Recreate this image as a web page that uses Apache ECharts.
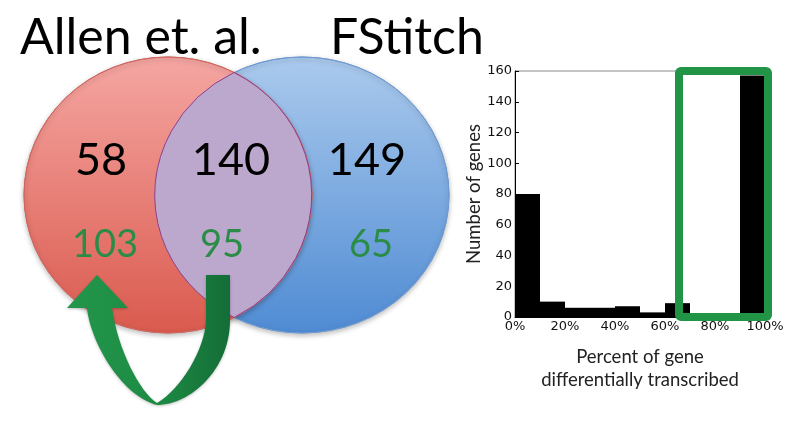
<!DOCTYPE html>
<html>
<head>
<meta charset="utf-8">
<script src="https://cdn.jsdelivr.net/npm/echarts@6/dist/echarts.min.js"></script>
<style>
  html, body { margin: 0; padding: 0; background: #fff; }
  #main { width: 800px; height: 426px; }
</style>
</head>
<body>
<div id="main"></div>
<script>
// venn counts
var setNames = ['Allen et. al.', 'FStitch']
var vennBlack = [58, 140, 149]
var vennGreen = [103, 95, 65]

// histogram: percent of gene differentially transcribed
var binStarts = [0, 0.1, 0.2, 0.3, 0.4, 0.5, 0.6, 0.7, 0.8, 0.9]
var binWidth = 0.1
var binCounts = [80, 10, 6, 6, 7, 3, 9, 2, 2, 157]
var yMax = 160
// highlighted range (green box), in data units
var boxX = [0.656, 1.012]
var boxY = [0, 160]

var GREEN_TXT = '#2b8c47'
var FONT = 'Lato, "Open Sans", sans-serif'

var myChart = echarts.init(document.getElementById('main'))

function ellipsePath(cx, cy, rx, ry) {
  return 'M' + (cx - rx) + ' ' + cy +
    ' A' + rx + ' ' + ry + ' 0 1 0 ' + (cx + rx) + ' ' + cy +
    ' A' + rx + ' ' + ry + ' 0 1 0 ' + (cx - rx) + ' ' + cy + ' Z'
}
function vgrad(c0, c1) {
  return { type: 'linear', x: 0, y: 0, x2: 0, y2: 1, colorStops: [{ offset: 0, color: c0 }, { offset: 1, color: c1 }] }
}

var red = { cx: 168, cy: 195, rx: 144, ry: 138 }
var blue = { cx: 302, cy: 195, rx: 147, ry: 138 }
var lensPath = 'M234 72.5 A' + red.rx + ' ' + red.ry + ' 0 0 1 234 317.5' +
  ' A' + blue.rx + ' ' + blue.ry + ' 0 0 1 234 72.5 Z'

var arrowPath = 'M230 275 L230 320 C230 370 190 405 157 405' +
  ' C120 395 90 340 87 308 L67 308 L97 275 L128 308 L112 308' +
  ' C118 350 140 392 157 403 C180 390 205 350 206 320 L206 275 Z'

var blackPos = [[101, 160], [231, 160], [367, 160]]
var greenPos = [[105, 245], [222, 245], [371, 245]]

var texts = [
  {
    type: 'text', z: 20, left: 20, top: 13,
    style: { text: setNames[0], font: '50px ' + FONT, fill: '#000' }
  },
  {
    type: 'text', z: 20, left: 330, top: 13,
    style: { text: setNames[1], font: '50px ' + FONT, fill: '#000' }
  }
]
vennBlack.forEach(function (v, i) {
  texts.push({
    type: 'text', z: 20, x: blackPos[i][0], y: blackPos[i][1],
    style: { text: String(v), font: '45px ' + FONT, fill: '#000', align: 'center', verticalAlign: 'middle' }
  })
})
vennGreen.forEach(function (v, i) {
  texts.push({
    type: 'text', z: 20, x: greenPos[i][0], y: greenPos[i][1],
    style: { text: String(v), font: '38px ' + FONT, fill: GREEN_TXT, align: 'center', verticalAlign: 'middle' }
  })
})

var option = {
  animation: false,
  backgroundColor: '#fff',
  grid: {
    left: 515, top: 71, width: 250, height: 246,
    show: true, borderColor: '#888', borderWidth: 1, backgroundColor: 'transparent'
  },
  xAxis: {
    type: 'value', min: 0, max: 1, interval: 0.2,
    name: 'Percent of gene\ndifferentially transcribed',
    nameLocation: 'middle', nameGap: 29,
    nameTextStyle: { fontFamily: FONT, fontSize: 18.5, color: '#222', lineHeight: 23, verticalAlign: 'top' },
    axisLine: { show: true, lineStyle: { color: '#000', width: 1 } },
    axisTick: { show: true, inside: true, length: 4, lineStyle: { color: '#000' } },
    splitLine: { show: false },
    axisLabel: {
      margin: 3, fontFamily: 'DejaVu Sans', fontSize: 13, color: '#111',
      formatter: function (v) { return Math.round(v * 100) + '%' }
    }
  },
  yAxis: {
    type: 'value', min: 0, max: yMax, interval: 20,
    name: 'Number of genes',
    nameLocation: 'middle', nameGap: 27,
    nameTextStyle: { fontFamily: FONT, fontSize: 18.5, color: '#222' },
    axisLine: { show: true, lineStyle: { color: '#000', width: 1 } },
    axisTick: { show: true, inside: true, length: 4, lineStyle: { color: '#000' } },
    splitLine: { show: false },
    axisLabel: { margin: 3, fontFamily: 'DejaVu Sans', fontSize: 13, color: '#111' }
  },
  series: [
    {
      type: 'custom',
      name: 'genes',
      encode: { x: [0, 1], y: 2 },
      data: binStarts.map(function (s, i) { return [s, s + binWidth, binCounts[i]] }),
      renderItem: function (params, api) {
        var p0 = api.coord([api.value(0), api.value(2)])
        var p1 = api.coord([api.value(1), 0])
        return {
          type: 'rect',
          shape: { x: p0[0], y: p0[1], width: p1[0] - p0[0], height: p1[1] - p0[1] },
          style: { fill: '#000' }
        }
      }
    },
    {
      // venn circles + arrow
      type: 'custom',
      name: 'venn',
      coordinateSystem: 'none',
      silent: true,
      data: [0],
      renderItem: function () {
        return {
          type: 'group',
          children: [
            {
              type: 'path', z2: 1,
              shape: { pathData: ellipsePath(blue.cx, blue.cy, blue.rx, blue.ry) },
              style: {
                fill: vgrad('#abcaed', '#4f8bd3'), stroke: '#6d9ad3', lineWidth: 1,
                shadowBlur: 5, shadowColor: 'rgba(0,0,0,0.25)', shadowOffsetY: 2
              }
            },
            {
              type: 'path', z2: 2,
              shape: { pathData: ellipsePath(red.cx, red.cy, red.rx, red.ry) },
              style: {
                fill: vgrad('#f5a6a2', '#da5a4e'), stroke: '#d0675f', lineWidth: 1,
                shadowBlur: 5, shadowColor: 'rgba(0,0,0,0.25)', shadowOffsetY: 2
              }
            },
            {
              type: 'path', z2: 3,
              shape: { pathData: lensPath },
              style: { fill: '#bca7cd', stroke: '#8c3f8e', lineWidth: 1 }
            },
            {
              type: 'path', z2: 5,
              shape: { pathData: arrowPath },
              style: {
                fill: {
                  type: 'linear', x: 0, y: 0, x2: 1, y2: 0,
                  colorStops: [
                    { offset: 0, color: '#23964b' },
                    { offset: 0.55, color: '#1d8b44' },
                    { offset: 1, color: '#146d37' }
                  ]
                },
                shadowBlur: 3, shadowColor: 'rgba(0,0,0,0.25)', shadowOffsetY: 1
              }
            }
          ]
        }
      }
    }
  ],
  graphic: texts
}

myChart.setOption(option)

// green highlight box around the high percent bins
var b0 = myChart.convertToPixel({ gridIndex: 0 }, [boxX[0], boxY[1]])
var b1 = myChart.convertToPixel({ gridIndex: 0 }, [boxX[1], boxY[0]])
texts.push({
  type: 'rect', z: 30,
  shape: { x: b0[0], y: b0[1], width: b1[0] - b0[0], height: b1[1] - b0[1], r: 2 },
  style: { fill: 'none', stroke: '#219446', lineWidth: 8 }
})
myChart.setOption({ graphic: texts })
</script>
</body>
</html>
